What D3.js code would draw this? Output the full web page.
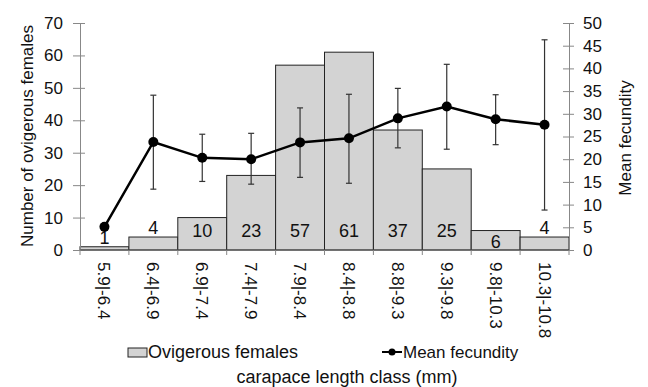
<!DOCTYPE html>
<meta charset="utf-8">
<html>
<style>
  body { margin: 0; background: #fff; }
  text { font-family: "Liberation Sans", Arial, sans-serif; fill: #111; }
</style>
<body>
<div id="chart"></div>
<script src="https://d3js.org/d3.v7.min.js"></script>
<script>
// size classes (mm) and values
const classes = ["5.9|-6.4", "6.4|-6.9", "6.9|-7.4", "7.4|-7.9", "7.9|-8.4",
                 "8.4|-8.8", "8.8|-9.3", "9.3|-9.8", "9.8|-10.3", "10.3|-10.8"];
const females = [1, 4, 10, 23, 57, 61, 37, 25, 6, 4];
const fecundity = [5.1, 23.8, 20.3, 20.0, 23.7, 24.6, 29.0, 31.6, 28.8, 27.6];
const fecLow  = [null, 13.4, 15.1, 14.5, 16.0, 14.7, 22.5, 22.2, 23.2, 8.8];
const fecHigh = [null, 34.1, 25.5, 25.7, 31.3, 34.3, 35.6, 40.9, 34.2, 46.3];
const leftTicks = [0, 10, 20, 30, 40, 50, 60, 70];
const rightTicks = [0, 5, 10, 15, 20, 25, 30, 35, 40, 45, 50];

const W = 648, H = 387;
const svg = d3.select("#chart").append("svg")
    .attr("width", W).attr("height", H);

const x = d3.scaleBand().domain(classes).range([80, 569]).padding(0);
const yL = d3.scaleLinear().domain([0, 70]).range([250, 23]);
const yR = d3.scaleLinear().domain([0, 50]).range([250, 23]);

// bars
svg.append("g").selectAll("rect")
  .data(females)
  .enter().append("rect")
    .attr("x", (d, i) => x(classes[i]))
    .attr("y", d => yL(d))
    .attr("width", x.bandwidth())
    .attr("height", d => yL(0) - yL(d))
    .style("fill", "#d3d3d3")
    .style("stroke", "#222")
    .style("stroke-width", 1);

// bar value labels (hand placed in the original)
function labelY(v) {
  if (v <= 5) return yL(v) - 3;
  if (v < 10) return yL(0) - 2;
  return yL(0) - 13;
}
svg.append("g").selectAll("text")
  .data(females)
  .enter().append("text")
    .attr("x", (d, i) => x(classes[i]) + x.bandwidth() / 2)
    .attr("y", d => labelY(d))
    .attr("text-anchor", "middle")
    .style("font-size", "18px")
    .text(d => d);

// left axis
const axL = svg.append("g")
  .attr("transform", "translate(80,0)")
  .call(d3.axisLeft(yL).tickValues(leftTicks).tickSizeInner(7).tickSizeOuter(0).tickPadding(10));
axL.selectAll(".tick line").attr("x2", 5).attr("x1", -7);

// right axis
const axR = svg.append("g")
  .attr("transform", "translate(569,0)")
  .call(d3.axisRight(yR).tickValues(rightTicks).tickSizeInner(5).tickSizeOuter(0).tickPadding(9));
axR.selectAll(".tick line").attr("x1", -6).attr("x2", 5);

[axL, axR].forEach(a => {
  a.select(".domain").attr("stroke", "#888");
  a.selectAll(".tick line").attr("stroke", "#888");
  a.selectAll(".tick text").style("font-size", "17px").style("font-family", "Liberation Sans, Arial, sans-serif").attr("fill", "#111");
});

// bottom axis: ticks between classes, rotated labels
svg.append("line")
  .attr("x1", 80).attr("x2", 569).attr("y1", yL(0)).attr("y2", yL(0))
  .attr("stroke", "#555");
svg.append("g").selectAll("line")
  .data(classes.concat([null]))
  .enter().append("line")
    .attr("x1", (d, i) => 80 + i * x.bandwidth())
    .attr("x2", (d, i) => 80 + i * x.bandwidth())
    .attr("y1", yL(0)).attr("y2", yL(0) + 5)
    .attr("stroke", "#888");
svg.append("g").selectAll("text")
  .data(classes)
  .enter().append("text")
    .attr("transform", d => `translate(${x(d) + x.bandwidth() / 2 - 6},${yL(0) + 12}) rotate(90)`)
    .attr("text-anchor", "start")
    .style("font-size", "17px")
    .text(d => d);

// error bars
const err = svg.append("g");
fecundity.forEach((v, i) => {
  if (fecLow[i] == null) return;
  const cx = x(classes[i]) + x.bandwidth() / 2;
  err.append("line").attr("x1", cx).attr("x2", cx)
    .attr("y1", yR(fecLow[i])).attr("y2", yR(fecHigh[i]))
    .attr("stroke", "#333").attr("stroke-width", 1.2);
  [fecLow[i], fecHigh[i]].forEach(e => {
    err.append("line").attr("x1", cx - 3).attr("x2", cx + 3)
      .attr("y1", yR(e)).attr("y2", yR(e))
      .attr("stroke", "#333").attr("stroke-width", 1.2);
  });
});

// mean fecundity line
const line = d3.line()
  .x((d, i) => x(classes[i]) + x.bandwidth() / 2)
  .y(d => yR(d));
svg.append("path")
  .datum(fecundity)
  .attr("d", line)
  .attr("fill", "none")
  .attr("stroke", "#000")
  .attr("stroke-width", 2.5);
svg.append("g").selectAll("circle")
  .data(fecundity)
  .enter().append("circle")
    .attr("cx", (d, i) => x(classes[i]) + x.bandwidth() / 2)
    .attr("cy", d => yR(d))
    .attr("r", 5)
    .attr("fill", "#000");

// axis titles
svg.append("text")
  .attr("transform", "translate(33,136) rotate(-90)")
  .attr("text-anchor", "middle")
  .style("font-size", "17px")
  .text("Number of ovigerous females");
svg.append("text")
  .attr("transform", "translate(631,138) rotate(-90)")
  .attr("text-anchor", "middle")
  .style("font-size", "17px")
  .text("Mean fecundity");
svg.append("text")
  .attr("x", 347).attr("y", 383)
  .attr("text-anchor", "middle")
  .style("font-size", "18px")
  .text("carapace length class (mm)");

// legend
svg.append("rect")
  .attr("x", 128).attr("y", 348).attr("width", 19).attr("height", 9)
  .style("fill", "#d3d3d3").style("stroke", "#222");
svg.append("text")
  .attr("x", 148).attr("y", 358)
  .style("font-size", "18px")
  .text("Ovigerous females");
svg.append("line")
  .attr("x1", 382).attr("x2", 402).attr("y1", 352).attr("y2", 352)
  .attr("stroke", "#000").attr("stroke-width", 2);
svg.append("circle")
  .attr("cx", 392).attr("cy", 352).attr("r", 3.5).attr("fill", "#000");
svg.append("text")
  .attr("x", 403).attr("y", 358)
  .style("font-size", "17px")
  .text("Mean fecundity");
</script>
</body>
</html>
